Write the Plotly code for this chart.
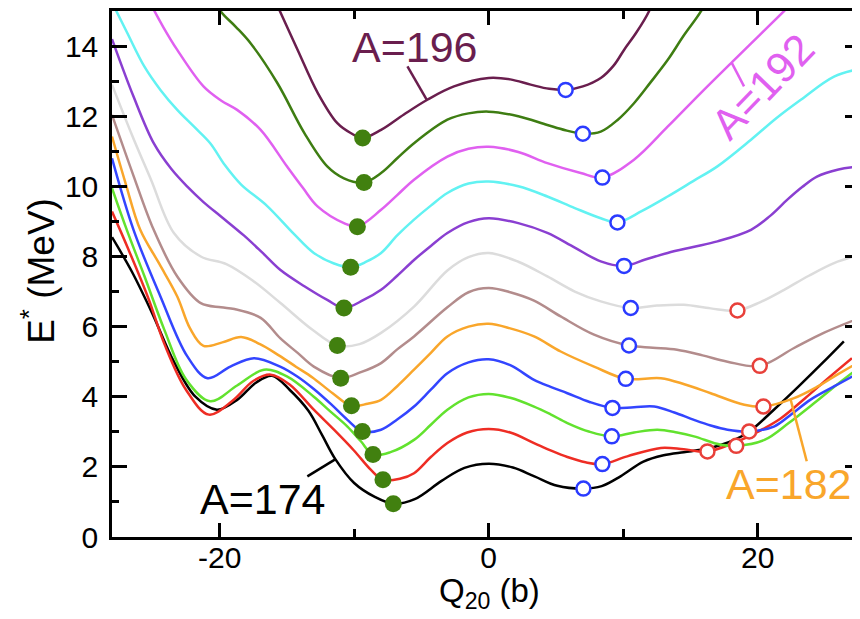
import plotly.graph_objects as go

# ---------------- data ----------------
mass_numbers = [174, 176, 178, 180, 182, 184, 186, 188, 190, 192, 194, 196]
line_colors = ["#000000", "#EE2D24", "#62E22E", "#3345FF", "#F9A62B", "#B38C8C",
               "#DCDCDC", "#8A3FD1", "#62F2F2", "#E060F0", "#3E7D12", "#6A1E4E"]

Q_174 = [-28, -26.5, -25.0, -23.4, -21.8, -20.2, -18.7, -17.3, -16.1, -14.8, -13.4, -12.4, -11.4, -10.0, -8.5, -7.09, -5.5, -3.5, -1.8, 0, 1.8, 3.4, 5.1, 7.04, 8.4, 9.8, 11.5, 13.0, 14.5, 16.0, 17.3, 19.2, 21.2, 23.0, 24.7, 26.4]
E_174 = [8.55, 7.55, 6.37, 5.0, 4.0, 3.63, 3.91, 4.4, 4.6, 4.2, 3.6, 2.92, 2.22, 1.54, 1.15, 0.95, 1.08, 1.6, 1.97, 2.09, 1.98, 1.73, 1.46, 1.38, 1.45, 1.73, 2.15, 2.33, 2.42, 2.5, 2.63, 2.96, 3.63, 4.28, 4.92, 5.58]

Q_176 = [-28, -26.8, -25.3, -24.1, -22.5, -20.8, -19.0, -17.5, -16.2, -14.8, -13.0, -11.5, -10.0, -8.77, -7.86, -6.6, -5.55, -4.3, -3.07, -1.6, 0, 1.6, 3.37, 4.6, 5.85, 7.2, 8.45, 10.3, 12.8, 14.5, 16.26, 18.2, 20.0, 21.7, 23.5, 25.3, 27.0]
E_176 = [9.28, 8.22, 6.81, 5.5, 4.2, 3.49, 3.9, 4.45, 4.63, 4.35, 3.63, 3.06, 2.46, 1.92, 1.63, 1.66, 1.82, 2.28, 2.68, 2.98, 3.08, 2.98, 2.68, 2.47, 2.28, 2.13, 2.08, 2.3, 2.54, 2.5, 2.44, 2.68, 3.0, 3.38, 3.95, 4.55, 5.1]

Q_178 = [-28, -26.9, -25.6, -24.1, -22.5, -20.7, -18.7, -16.7, -15.0, -13.0, -11.8, -10.5, -9.5, -8.6, -7.3, -5.55, -4.3, -3.07, -1.5, 0, 1.6, 3.37, 4.6, 5.85, 7.5, 9.15, 10.8, 12.54, 14.0, 15.26, 17.25, 18.4, 20.5, 22.3, 24.2, 25.9, 27.6]
E_178 = [9.95, 8.76, 7.45, 5.9, 4.5, 3.87, 4.32, 4.77, 4.58, 4.0, 3.59, 3.15, 2.73, 2.35, 2.42, 2.77, 3.2, 3.63, 3.98, 4.08, 3.97, 3.72, 3.5, 3.25, 3.0, 2.87, 2.98, 3.06, 2.98, 2.87, 2.63, 2.6, 2.77, 3.25, 3.82, 4.35, 4.85]

Q_180 = [-28, -26.4, -24.4, -22.4, -20.9, -19.2, -17.45, -15.5, -14.2, -13.0, -11.7, -10.5, -9.39, -8.0, -6.8, -5.55, -4.3, -3.07, -1.5, 0, 1.6, 3.37, 4.6, 5.85, 7.5, 9.2, 10.8, 12.3, 13.8, 15.26, 16.5, 17.75, 19.36, 21.2, 22.5, 23.9, 25.7, 27.6]
E_180 = [10.8, 8.76, 6.86, 5.15, 4.53, 4.86, 5.1, 4.86, 4.57, 4.22, 3.78, 3.34, 3.01, 3.06, 3.35, 3.72, 4.2, 4.67, 4.98, 5.07, 4.9, 4.48, 4.28, 4.1, 3.85, 3.68, 3.7, 3.72, 3.55, 3.34, 3.18, 3.06, 3.01, 3.15, 3.5, 3.91, 4.3, 4.7]

Q_182 = [-28, -27.0, -25.9, -24.5, -23.15, -22.2, -21.2, -19.8, -18.4, -17.0, -15.6, -14.3, -13.1, -11.6, -10.2, -9.0, -8.0, -6.8, -5.55, -4.3, -3.07, -1.5, 0, 1.6, 3.37, 5.35, 7.83, 10.19, 12.8, 14.6, 16.5, 19.0, 20.42, 22.7, 24.5, 26.0, 27.6]
E_182 = [11.42, 10.1, 8.76, 7.8, 6.86, 5.95, 5.45, 5.55, 5.7, 5.5, 5.18, 4.85, 4.55, 4.1, 3.74, 3.8, 3.91, 4.3, 4.77, 5.25, 5.72, 6.0, 6.08, 5.95, 5.72, 5.29, 4.86, 4.51, 4.53, 4.35, 4.1, 3.77, 3.72, 3.96, 4.3, 4.65, 5.0]

Q_184 = [-28, -26.4, -24.9, -23.15, -21.4, -19.9, -18.9, -16.95, -15.5, -14.2, -13.0, -11.0, -9.5, -8.0, -6.8, -5.55, -3.07, -1.5, 0, 1.6, 3.37, 5.35, 7.83, 10.43, 12.2, 14.0, 15.9, 17.75, 20.15, 22.7, 24.9, 27.6]
E_184 = [12.04, 10.3, 8.76, 7.43, 6.67, 6.55, 6.5, 6.25, 5.67, 5.25, 4.86, 4.53, 4.7, 4.96, 5.35, 5.72, 6.55, 6.98, 7.1, 6.98, 6.74, 6.29, 5.77, 5.46, 5.4, 5.34, 5.18, 5.0, 4.88, 5.39, 5.82, 6.25]

Q_186 = [-28, -26.5, -25.1, -23.4, -21.4, -19.5, -17.5, -15.5, -13.1, -11.25, -9.6, -8.0, -5.55, -3.07, -1.5, 0, 2.2, 4.36, 6.4, 8.33, 10.56, 12.5, 14.5, 16.5, 18.49, 20.2, 21.96, 23.8, 25.67, 27.6]
E_186 = [12.9, 11.45, 10.19, 8.67, 8.0, 7.78, 7.3, 6.68, 5.91, 5.46, 5.5, 5.82, 6.57, 7.6, 7.98, 8.1, 7.85, 7.43, 7.0, 6.72, 6.53, 6.6, 6.62, 6.52, 6.46, 6.7, 7.05, 7.45, 7.81, 8.05]

Q_188 = [-28, -26.4, -24.9, -23.6, -22.4, -21.2, -19.9, -18.2, -16.8, -15.5, -13.7, -12.0, -10.76, -9.3, -8.0, -6.8, -5.55, -4.3, -3.07, -1.5, 0, 2.2, 4.36, 6.4, 8.33, 10.06, 11.7, 13.3, 15.2, 17.0, 19.5, 20.9, 22.2, 23.3, 24.4, 26.0, 27.6]
E_188 = [14.2, 12.56, 11.23, 10.5, 9.99, 9.55, 9.14, 8.6, 8.1, 7.62, 7.15, 6.76, 6.53, 6.76, 7.05, 7.45, 7.9, 8.3, 8.67, 8.98, 9.09, 8.95, 8.67, 8.25, 7.86, 7.73, 7.92, 8.1, 8.27, 8.43, 8.76, 9.15, 9.62, 9.98, 10.28, 10.48, 10.57]

Q_190 = [-28.2, -26.9, -25.6, -24.4, -23.15, -21.9, -20.7, -19.6, -18.4, -16.5, -14.5, -13.0, -11.5, -10.26, -9.1, -8.0, -6.8, -5.55, -4.3, -3.07, -1.5, 0, 2.2, 4.36, 6.4, 8.33, 9.57, 11.4, 13.3, 15.2, 17.0, 19.5, 21.4, 23.2, 25.67, 27.6]
E_190 = [15.4, 14.4, 13.42, 12.75, 12.18, 11.7, 11.23, 10.6, 10.05, 9.45, 8.65, 8.1, 7.8, 7.69, 7.85, 8.1, 8.6, 9.05, 9.45, 9.81, 10.08, 10.14, 10.0, 9.71, 9.38, 9.09, 8.97, 9.3, 9.71, 10.15, 10.57, 11.33, 11.95, 12.47, 13.13, 13.35]

Q_192 = [-25.4, -24.2, -23.15, -21.2, -19.9, -18.7, -16.95, -15.0, -13.8, -12.7, -10.76, -9.76, -8.0, -6.8, -5.55, -3.07, -1.5, 0, 2.2, 4.36, 6.84, 8.45, 10.8, 13.3, 15.76, 18.24, 20.1, 21.96, 23.0]
E_192 = [15.4, 14.55, 13.89, 12.85, 12.45, 12.18, 11.61, 10.57, 9.95, 9.42, 8.95, 8.85, 9.33, 9.75, 10.19, 10.85, 11.07, 11.13, 10.98, 10.66, 10.38, 10.25, 10.76, 11.7, 12.66, 13.6, 14.3, 15.0, 15.4]

Q_194 = [-20.5, -19.9, -18.8, -17.7, -15.7, -13.7, -12.0, -10.76, -9.27, -8.0, -6.8, -5.55, -3.07, -1.5, 0, 2.2, 4.36, 5.7, 7.0, 8.33, 9.6, 10.8, 12.0, 13.3, 14.5, 15.76, 16.3]
E_194 = [15.4, 14.98, 14.55, 14.08, 12.94, 11.52, 10.57, 10.23, 10.11, 10.38, 10.8, 11.23, 11.9, 12.08, 12.13, 12.0, 11.75, 11.6, 11.5, 11.56, 11.9, 12.37, 12.95, 13.6, 14.3, 14.98, 15.4]

Q_196 = [-16.0, -15.5, -14.2, -12.7, -11.25, -10.26, -9.37, -8.0, -6.3, -4.56, -2.58, 0, 1.6, 3.12, 4.5, 5.72, 7.0, 8.33, 9.3, 10.06, 11.0, 11.9, 12.3]
E_196 = [15.4, 14.98, 13.89, 12.66, 11.8, 11.52, 11.38, 11.61, 12.05, 12.47, 12.85, 13.09, 13.05, 12.9, 12.78, 12.75, 12.85, 13.09, 13.45, 13.89, 14.4, 14.98, 15.4]

# oblate minima (filled green dots)
oblate_Q = [-7.09, -7.86, -8.6, -9.39, -10.2, -11.0, -11.25, -10.76, -10.26, -9.76, -9.27, -9.37]
oblate_E = [0.95, 1.63, 2.35, 3.01, 3.74, 4.53, 5.46, 6.53, 7.69, 8.85, 10.11, 11.38]
# prolate minima (open blue circles)
prolate_Q = [7.04, 8.45, 9.15, 9.2, 10.19, 10.43, 10.56, 10.06, 9.57, 8.45, 7.0, 5.72]
prolate_E = [1.38, 2.08, 2.87, 3.68, 4.51, 5.46, 6.53, 7.73, 8.97, 10.25, 11.5, 12.75]
# strongly deformed minima (open red circles), A = 176 ... 186
sd_Q = [16.26, 18.4, 19.36, 20.42, 20.15, 18.49]
sd_E = [2.44, 2.6, 3.01, 3.72, 4.88, 6.46]

curves_Q = [Q_174, Q_176, Q_178, Q_180, Q_182, Q_184, Q_186, Q_188, Q_190, Q_192, Q_194, Q_196]
curves_E = [E_174, E_176, E_178, E_180, E_182, E_184, E_186, E_188, E_190, E_192, E_194, E_196]

# labels: text, position, colour, leader line (from, to)
label_texts = ["A=174", "A=182", "A=192", "A=196"]
label_Q = [-16.77, 22.33, 20.4, -5.5]
label_E = [1.09, 1.52, 12.85, 13.96]
label_angles = [0, 0, -46, 0]
label_colors = ["#000000", "#F9A62B", "#E060F0", "#6A1E4E"]
leader_Q0 = [-13.48, 22.45, 18.07, -6.04]
leader_E0 = [1.73, 3.91, 13.52, 13.42]
leader_Q1 = [-11.38, 23.64, 18.98, -4.61]
leader_E1 = [2.22, 2.16, 12.85, 12.47]

x_tick_vals = [-20, 0, 20]
x_tick_text = ["-20", "0", "20"]
y_tick_vals = [0, 2, 4, 6, 8, 10, 12, 14]

FONT = "Liberation Sans, Arial, Helvetica, sans-serif"

fig = go.Figure()

for A, q, e, c in zip(mass_numbers, curves_Q, curves_E, line_colors):
    fig.add_trace(go.Scatter(x=q, y=e, mode="lines", name=f"A={A}",
                             line=dict(color=c, width=2.5, shape="spline", smoothing=1.0),
                             hoverinfo="skip"))

fig.add_trace(go.Scatter(x=oblate_Q, y=oblate_E, mode="markers",
                         marker=dict(size=17, color="#41800F", line=dict(width=0))))
fig.add_trace(go.Scatter(x=prolate_Q, y=prolate_E, mode="markers",
                         marker=dict(size=14, color="white", line=dict(width=2.5, color="#2B3BFF"))))
fig.add_trace(go.Scatter(x=sd_Q, y=sd_E, mode="markers",
                         marker=dict(size=14, color="white", line=dict(width=2.5, color="#E8403A"))))

for t, x, y, a, c, x0, y0, x1, y1 in zip(label_texts, label_Q, label_E, label_angles, label_colors,
                                          leader_Q0, leader_E0, leader_Q1, leader_E1):
    fig.add_annotation(x=x, y=y, text=t, showarrow=False, textangle=a,
                       font=dict(family=FONT, size=43, color=c),
                       xanchor="center", yanchor="middle")
    fig.add_shape(type="line", x0=x0, y0=y0, x1=x1, y1=y1, xref="x", yref="y",
                  line=dict(color=c, width=2.5))

# axis titles
fig.add_annotation(x=0.5053, y=-0.106, xref="paper", yref="paper", text="Q<sub>20</sub> (b)",
                   showarrow=False, xanchor="center", yanchor="middle",
                   font=dict(family=FONT, size=33, color="black"))
fig.add_annotation(x=-0.0976, y=0.506, xref="paper", yref="paper", text="E<sup>*</sup> (MeV)",
                   showarrow=False, xanchor="center", yanchor="middle", textangle=-90,
                   font=dict(family=FONT, size=37, color="black"))

# the page body adds an 8 px margin, so the figure is drawn 8 px smaller and offset
fig.update_layout(
    width=852, height=611,
    margin=dict(l=104, r=0, t=3, b=82, autoexpand=False),
    paper_bgcolor="white", plot_bgcolor="white",
    showlegend=False,
    font=dict(family=FONT, color="black"),
    xaxis=dict(range=[-28, 27.6], tickvals=x_tick_vals, ticktext=x_tick_text, ticks="inside",
               ticklen=14, tickwidth=2.5, tickcolor="black", showline=True, linewidth=2.5,
               linecolor="black", mirror="ticks", showgrid=False, zeroline=False,
               tickfont=dict(size=30), ticklabelstandoff=-8, automargin=False,
               minor=dict(tickvals=[-10, 10], ticks="inside", ticklen=8, tickwidth=2.5, tickcolor="black")),
    yaxis=dict(range=[0, 15], tickvals=y_tick_vals, ticks="inside", ticklen=15,
               tickwidth=2.5, tickcolor="black", showline=True, linewidth=2.5, linecolor="black",
               mirror="ticks", showgrid=False, zeroline=False, tickfont=dict(size=30),
               ticklabelstandoff=5, automargin=False,
               minor=dict(tickvals=[1, 3, 5, 7, 9, 11, 13], ticks="inside", ticklen=7, tickwidth=2.5,
                          tickcolor="black")),
)

fig.write_html("out.html")
